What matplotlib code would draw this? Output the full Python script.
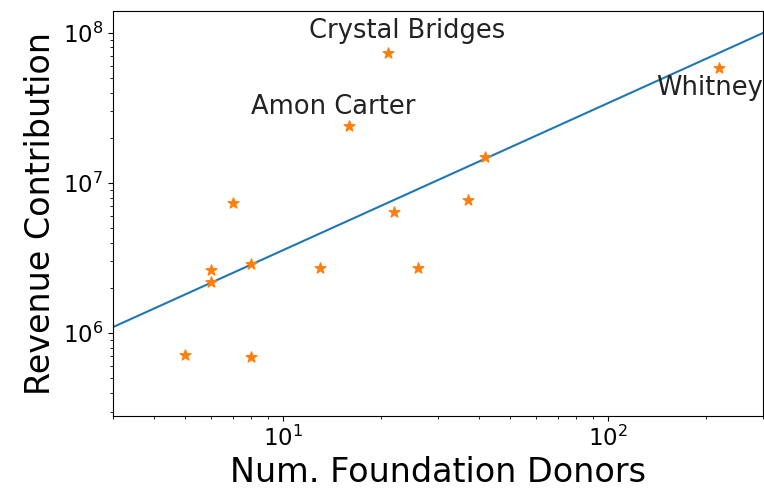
import numpy as np
import matplotlib
matplotlib.use("Agg")
import matplotlib.pyplot as plt

# data
donors = [5, 6, 6, 7, 8, 8, 13, 16, 21, 22, 26, 37, 42, 220]
revenue = [7.1e5, 2.65e6, 2.2e6, 7.3e6, 2.9e6, 6.9e5, 2.7e6, 2.4e7, 7.3e7, 6.4e6, 2.7e6, 7.7e6, 1.5e7, 5.8e7]
names = ["", "", "", "", "", "", "", "Amon Carter", "Crystal Bridges", "", "", "", "", "Whitney"]
label_offsets = {"Amon Carter": (-16, 19), "Crystal Bridges": (19, 22), "Whitney": (-10, -20)}

# fitted power-law line (log-log)
fit_slope = 0.98
fit_log_intercept = 5.572
fit_x_range = (3, 300)

fig = plt.figure(figsize=(7.64, 4.91), dpi=100)
W, H = 764, 491
ax = fig.add_axes([113 / W, (H - 416) / H, (763 - 113) / W, (416 - 11) / H])

xs = np.logspace(np.log10(fit_x_range[0]), np.log10(fit_x_range[1]), 100)
ax.plot(xs, 10 ** (fit_log_intercept + fit_slope * np.log10(xs)), color="#1f77b4", lw=1.5)
ax.scatter(donors, revenue, marker="*", s=65, color="#ff7f0e", zorder=3)

for x, y, n in zip(donors, revenue, names):
    if n:
        dx, dy = label_offsets[n]
        ax.annotate(n, (x, y), xytext=(dx, dy), textcoords="offset pixels",
                    ha="center", va="center", fontsize=18.5, color="#222222")

ax.set_xscale("log")
ax.set_yscale("log")
ax.set_xlim(3, 300)
ax.set_ylim(2.8e5, 1.4e8)
ax.tick_params(labelsize=16.5)
ax.set_xlabel("Num. Foundation Donors", fontsize=24)
ax.set_ylabel("Revenue Contribution", fontsize=24)

fig.savefig("out.png", dpi=100)
